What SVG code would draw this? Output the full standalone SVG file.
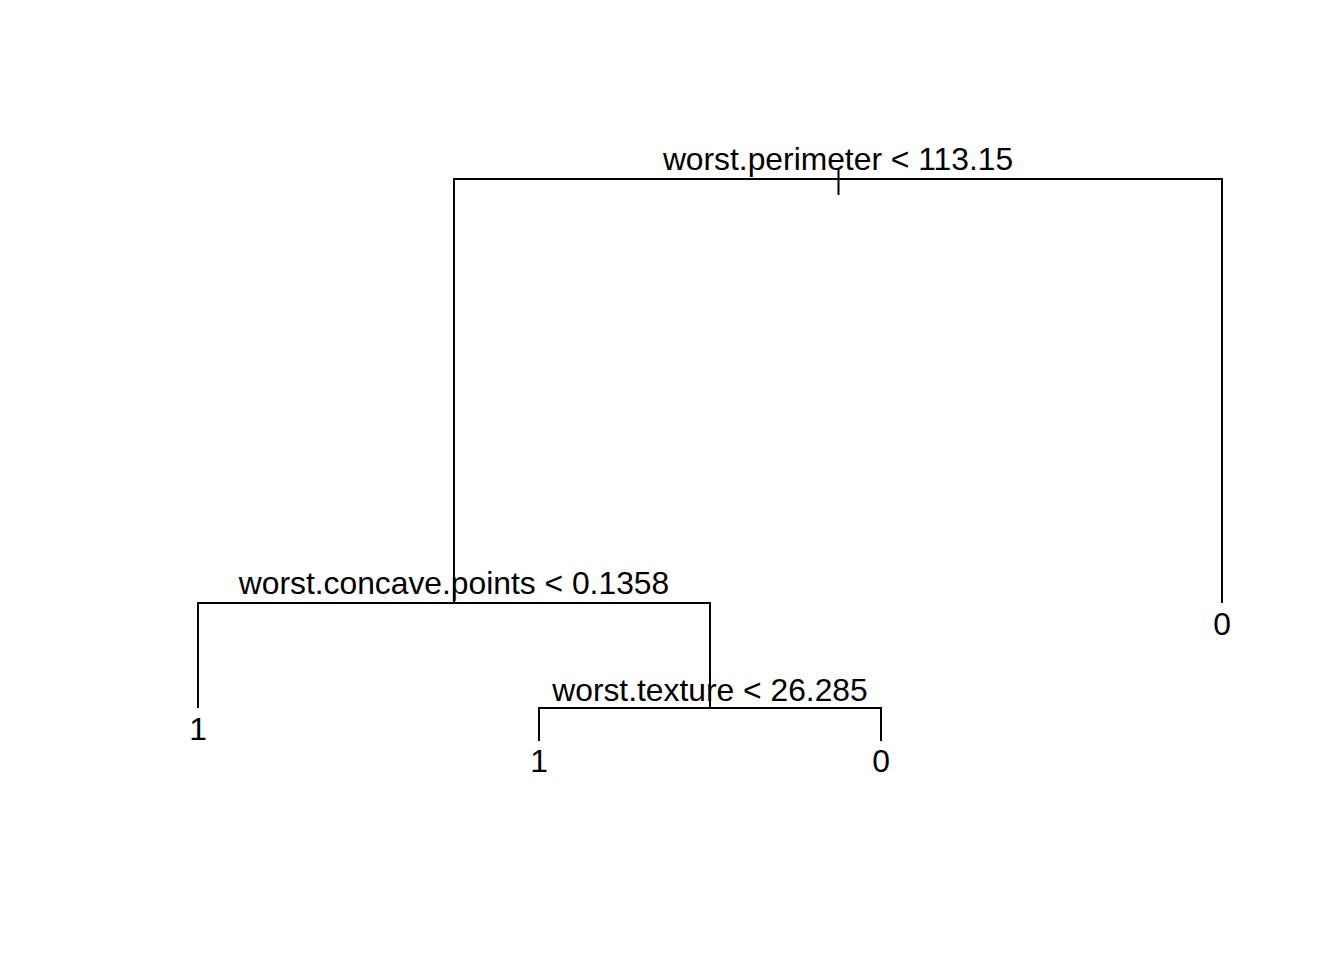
<svg xmlns="http://www.w3.org/2000/svg" width="1344" height="960" viewBox="0 0 1344 960">
<style>
.e{fill:none;stroke:#000;stroke-width:2;stroke-linecap:butt}
.t{font-family:"Liberation Sans",Arial,sans-serif;font-size:31.8px;fill:#000;text-anchor:middle}
</style>
<rect width="1344" height="960" fill="#fff"/>
<g id="connectors">
<path class="e" d="M838.5,168 V195"/>
<path class="e" d="M454,603 V179 H1222 V603"/>
<path class="e" d="M198,708 V603 H710 V708"/>
<path class="e" d="M539,741 V708 H881 V741"/>
</g>
<g id="n1"><text class="t" x="838" y="170">worst.perimeter &lt; 113.15</text></g>
<g id="n2"><text class="t" x="454" y="594">worst.concave.points &lt; 0.1358</text></g>
<g id="n3"><text class="t" x="710" y="701">worst.texture &lt; 26.285</text></g>
<g id="leaf1"><text class="t" x="198" y="740">1</text></g>
<g id="leaf2"><text class="t" x="539" y="772">1</text></g>
<g id="leaf3"><text class="t" x="881" y="772">0</text></g>
<g id="leaf4"><text class="t" x="1222" y="635">0</text></g>
</svg>
